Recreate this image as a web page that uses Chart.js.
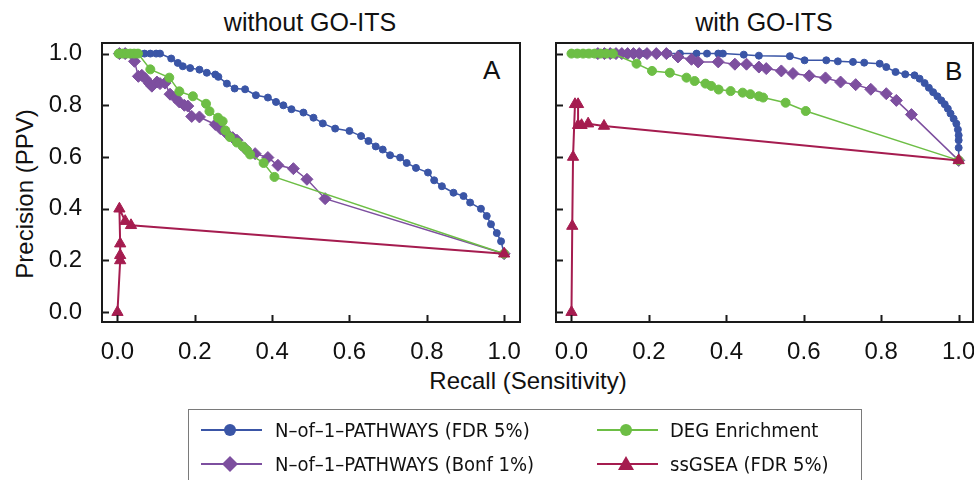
<!DOCTYPE html>
<html>
<head>
<meta charset="utf-8">
<script src="https://cdn.jsdelivr.net/npm/chart.js@4.4.1/dist/chart.umd.min.js"></script>
<style>
  body { margin: 0; width: 974px; height: 480px; overflow: hidden; position: relative; background: #fff;
         font-family: "Liberation Sans", Arial, Helvetica, sans-serif; color: #111; }
  .abs { position: absolute; white-space: nowrap; }
  canvas { position: absolute; top: 0; }
  .title { font-size: 25px; line-height: 25px; text-align: center; width: 300px; top: 10px; }
  .axlab { font-size: 24px; line-height: 24px; text-align: center; width: 300px; }
  .tag { font-size: 26px; line-height: 26px; }
  #legend { left: 188px; top: 409px; width: 672px; height: 100px; border: 1.5px solid #7a7a7a; }
  .ltext { font-family: "Liberation Sans Narrow", "DejaVu Sans Condensed", Arial, sans-serif;
           font-size: 20px; line-height: 24px; }
</style>
</head>
<body>

<div class="abs title" style="left:160px">without GO-ITS</div>
<div class="abs title" style="left:614px">with GO-ITS</div>
<div class="abs axlab" style="left:-125px; top:182px; transform: rotate(-90deg)">Precision (PPV)</div>
<div class="abs axlab" style="left:378px; top:369px">Recall (Sensitivity)</div>
<div class="abs tag" style="left:483px; top:57px">A</div>
<div class="abs tag" style="left:945px; top:58px">B</div>

<canvas id="chartA" width="540" height="370" style="left:0"></canvas>
<canvas id="chartB" width="444" height="370" style="left:540px"></canvas>

<div id="legend" class="abs"></div>
<svg class="abs" style="left:0;top:0" width="974" height="480" id="legendIcons"></svg>
<div class="abs ltext" style="left:275px; top:418px">N–of–1–PATHWAYS (FDR 5%)</div>
<div class="abs ltext" style="left:275px; top:452px">N–of–1–PATHWAYS (Bonf 1%)</div>
<div class="abs ltext" style="left:670px; top:418px">DEG Enrichment</div>
<div class="abs ltext" style="left:670px; top:452px">ssGSEA (FDR 5%)</div>

<script>
// tick labels shared by both panels
const tickVals = [0.0, 0.2, 0.4, 0.6, 0.8, 1.0];

// --- panel A: without GO-ITS ---
const aFdrX = [0.01,0.025,0.04,0.055,0.07,0.085,0.10,0.11,0.139,0.156,0.169,0.188,0.212,0.231,0.253,0.261,0.283,0.303,
               0.330,0.358,0.389,0.41,0.429,0.45,0.481,0.507,0.531,0.563,0.6,0.630,0.649,0.668,0.686,0.705,0.731,0.748,
               0.772,0.803,0.819,0.839,0.869,0.895,0.912,0.94,0.955,0.966,0.981,0.992,1.0];
const aFdrY = [1,1,1,1,1,1,1,1,0.981,0.964,0.951,0.944,0.938,0.926,0.919,0.910,0.884,0.865,
               0.862,0.839,0.830,0.813,0.800,0.785,0.772,0.752,0.730,0.710,0.701,0.681,0.662,0.641,0.629,0.607,0.598,0.577,
               0.558,0.540,0.510,0.487,0.462,0.449,0.424,0.400,0.372,0.340,0.306,0.274,0.226];

const aBonfX = [0.005,0.02,0.044,0.054,0.063,0.072,0.083,0.089,0.102,0.110,0.123,0.136,0.149,0.160,0.173,0.182,0.192,
                0.212,0.253,0.266,0.283,0.298,0.309,0.330,0.356,0.389,0.415,0.455,0.490,0.537,1.0];
const aBonfY = [1,1,0.970,0.912,0.916,0.903,0.884,0.874,0.890,0.884,0.886,0.843,0.830,0.813,0.800,0.797,0.757,
                0.755,0.726,0.710,0.690,0.675,0.665,0.633,0.613,0.598,0.568,0.555,0.514,0.439,0.226];

const aDegX = [0.003,0.013,0.023,0.033,0.043,0.053,0.085,0.134,0.160,0.195,0.229,0.238,0.260,0.272,0.279,0.291,
               0.309,0.324,0.335,0.343,0.378,0.406,1.0];
const aDegY = [1,1,1,1,1,1,0.939,0.907,0.854,0.835,0.806,0.777,0.752,0.738,0.703,0.677,
               0.656,0.641,0.626,0.610,0.577,0.523,0.226];

const aSsX = [0.0,0.007,0.007,0.007,0.005,0.02,0.035,1.0];
const aSsY = [0.0,0.200,0.220,0.265,0.400,0.352,0.336,0.226];

// --- panel B: with GO-ITS ---
const bFdrX = [0.01,0.04,0.07,0.10,0.13,0.16,0.19,0.22,0.25,0.280,0.323,0.350,0.379,0.391,
               0.445,0.484,0.564,0.602,0.658,0.688,0.727,0.756,0.796,0.813,0.837,0.862,0.886,0.899,0.912,0.923,
               0.934,0.945,0.955,0.964,0.972,0.979,0.987,0.994,0.998,1.0,1.0,1.0,1.0];
const bFdrY = [1,1,1,1,1,1,1,1,1,1,1,1,1,1,
               0.996,0.992,0.990,0.974,0.974,0.970,0.968,0.965,0.961,0.948,0.929,0.920,0.916,0.903,0.886,0.868,
               0.851,0.835,0.819,0.804,0.787,0.768,0.748,0.729,0.706,0.684,0.665,0.636,0.587];

const bBonfX = [0.068,0.085,0.10,0.115,0.13,0.145,0.16,0.175,0.195,0.219,0.245,
                0.275,0.310,0.327,0.379,0.422,0.452,0.484,0.503,0.542,0.572,0.614,0.656,0.695,0.734,0.773,0.813,
                0.839,0.878,1.0];
const bBonfY = [1,1,1,1,1,1,1,1,1,1,1,
                0.987,0.978,0.968,0.968,0.959,0.959,0.948,0.942,0.933,0.923,0.914,0.906,0.890,0.880,0.862,0.845,
                0.819,0.764,0.587];

const bDegX = [0.0,0.015,0.03,0.045,0.06,0.075,0.09,0.107,0.168,0.208,0.254,0.297,0.318,0.346,0.361,0.380,
               0.411,0.442,0.462,0.484,0.495,0.553,0.605,1.0];
const bDegY = [1,1,1,1,1,1,1,1,0.961,0.933,0.926,0.907,0.894,0.884,0.875,0.861,
               0.855,0.849,0.843,0.835,0.830,0.810,0.778,0.587];

const bSsX = [0.0,0.002,0.004,0.009,0.017,0.017,0.026,0.043,0.084,1.0];
const bSsY = [0.0,0.333,0.600,0.804,0.804,0.723,0.723,0.729,0.720,0.587];

const colFdr = '#3a55a6', colBonf = '#7d4f9f', colDeg = '#6dbe45', colSs = '#a51c4f';
const fontFam = '"Liberation Sans", Arial, Helvetica, sans-serif';

function pts(xs, ys) { return xs.map((x, i) => ({ x: x, y: ys[i] })); }

function series(xs, ys, color, style, radius, lw) {
    return {
        data: pts(xs, ys), showLine: true,
        borderColor: color, backgroundColor: color, borderWidth: lw,
        pointStyle: style, pointRadius: radius, pointBorderWidth: 1,
        pointBackgroundColor: color, pointBorderColor: color
    };
}

// box around plot area + inward tick marks
const frameTicks = {
    id: 'frameTicks',
    afterDraw(chart) {
        const { ctx, chartArea: a, scales } = chart;
        ctx.save();
        ctx.strokeStyle = '#1a1a1a';
        ctx.lineWidth = 2;
        ctx.strokeRect(a.left, a.top, a.right - a.left, a.bottom - a.top);
        ctx.beginPath();
        tickVals.forEach(v => {
            const x = Math.round(scales.x.getPixelForValue(v)) + 0.5;
            ctx.moveTo(x, a.bottom); ctx.lineTo(x, a.bottom - 7);
            const y = Math.round(scales.y.getPixelForValue(v)) + 0.5;
            ctx.moveTo(a.left, y); ctx.lineTo(a.left + 7, y);
        });
        ctx.stroke();
        ctx.restore();
    }
};

function makePanel(id, sets, xMax, yWidth, padRight, showY) {
    const tickFont = { size: 24, family: fontFam };
    new Chart(document.getElementById(id), {
        type: 'scatter',
        // first dataset is drawn on top
        data: { datasets: [
            series(sets.ssX, sets.ssY, colSs, 'triangle', 6.5, 2),
            series(sets.degX, sets.degY, colDeg, 'circle', 4.5, 1.5),
            series(sets.bonfX, sets.bonfY, colBonf, 'rectRot', 6, 1.5),
            series(sets.fdrX, sets.fdrY, colFdr, 'circle', 3.5, 1.5)
        ] },
        options: {
            responsive: false, animation: false,
            layout: { padding: { top: 43, right: padRight, left: 0, bottom: 0 } },
            plugins: { legend: { display: false }, tooltip: { enabled: false } },
            scales: {
                x: {
                    type: 'linear', min: -0.04, max: xMax,
                    grid: { display: false, drawTicks: false }, border: { display: false },
                    afterBuildTicks: s => { s.ticks = tickVals.map(v => ({ value: v })); },
                    ticks: { font: tickFont, color: '#111', padding: 16, maxRotation: 0, autoSkip: false,
                             callback: v => v.toFixed(1) },
                    afterFit: s => { s.height = 48; s.paddingLeft = 0; s.paddingRight = 0; }
                },
                y: {
                    type: 'linear', min: -0.038, max: 1.041,
                    grid: { display: false, drawTicks: false }, border: { display: false },
                    afterBuildTicks: s => { s.ticks = tickVals.map(v => ({ value: v })); },
                    ticks: { display: showY, font: tickFont, color: '#111', padding: 20, autoSkip: false,
                             callback: v => v.toFixed(1) },
                    afterFit: s => { s.width = yWidth; s.paddingTop = 0; s.paddingBottom = 0; }
                }
            }
        },
        plugins: [frameTicks]
    });
}

makePanel('chartA', { fdrX: aFdrX, fdrY: aFdrY, bonfX: aBonfX, bonfY: aBonfY, degX: aDegX, degY: aDegY, ssX: aSsX, ssY: aSsY },
          1.041, 102, 20, true);
makePanel('chartB', { fdrX: bFdrX, fdrY: bFdrY, bonfX: bBonfX, bonfY: bBonfY, degX: bDegX, degY: bDegY, ssX: bSsX, ssY: bSsY },
          1.037, 16, 11, false);

// legend icons
const svg = document.getElementById('legendIcons');
function icon(x0, y, color, shape) {
    let s = `<line x1="${x0}" y1="${y}" x2="${x0 + 61}" y2="${y}" stroke="${color}" stroke-width="1.8"/>`;
    const cx = x0 + 29;
    if (shape === 'circle') s += `<circle cx="${cx}" cy="${y}" r="6" fill="${color}"/>`;
    if (shape === 'diamond') s += `<polygon points="${cx - 8},${y} ${cx},${y - 8} ${cx + 8},${y} ${cx},${y + 8}" fill="${color}"/>`;
    if (shape === 'triangle') s += `<polygon points="${cx - 8},${y + 6} ${cx},${y - 8} ${cx + 8},${y + 6}" fill="${color}"/>`;
    return s;
}
svg.innerHTML = icon(201, 430, colFdr, 'circle') + icon(201, 464, colBonf, 'diamond') +
                icon(597, 430, colDeg, 'circle') + icon(597, 464, colSs, 'triangle');
</script>
</body>
</html>
